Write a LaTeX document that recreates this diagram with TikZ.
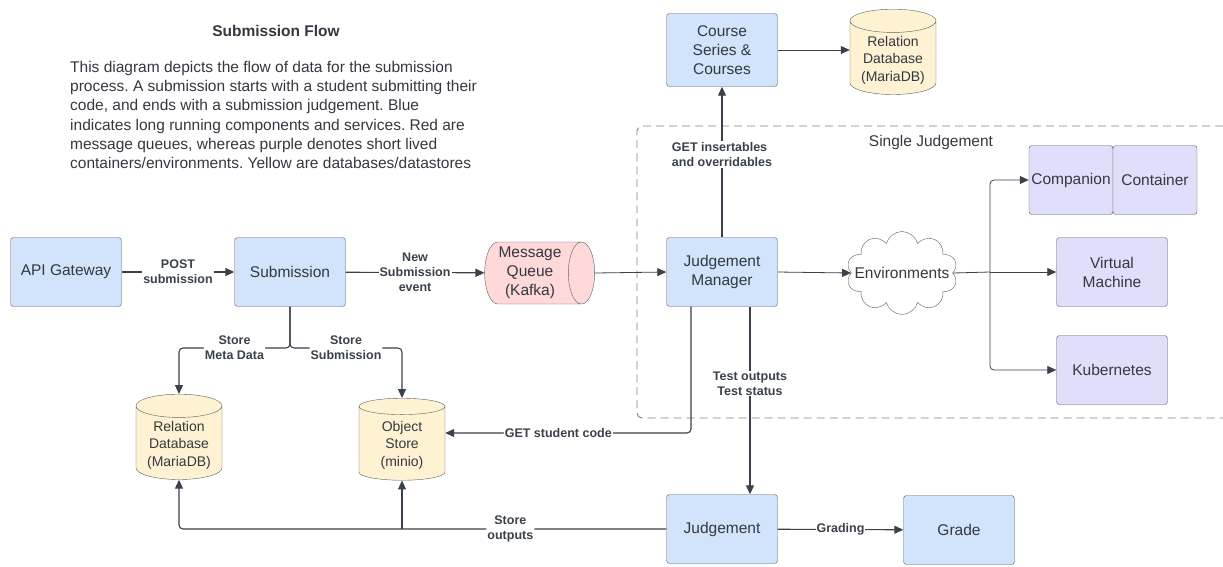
\documentclass[tikz,border=0pt]{standalone}
\usepackage{fontspec}
\setmainfont{Liberation Sans}
\usetikzlibrary{arrows.meta,shapes.geometric,shapes.symbols}
\frenchspacing

\definecolor{svcblue}{HTML}{D1E4FB}
\definecolor{queuered}{HTML}{FFD8D8}
\definecolor{dbyellow}{HTML}{FFF2D2}
\definecolor{envpurple}{HTML}{DFDFFC}
\definecolor{edgegray}{HTML}{5A5F66}
\definecolor{linegray}{HTML}{3A414A}
\definecolor{textgray}{HTML}{333840}

\begin{document}
\begin{tikzpicture}[x=1pt,y=-1pt,
    box/.style={draw=edgegray,fill=svcblue,rounded corners=3pt,minimum width=111pt,minimum height=69pt,
        align=center,text=textgray,font=\fontsize{15.5}{19}\selectfont},
    envbox/.style={box,fill=envpurple,inner sep=1pt},
    store/.style={cylinder,shape border rotate=90,draw=edgegray,fill=dbyellow,aspect=0.33,
        minimum width=86pt,minimum height=82pt,align=center,text=textgray,font=\fontsize{14}{17.5}\selectfont},
    lbl/.style={fill=white,inner sep=1pt,align=center,text=linegray,font=\fontsize{12.5}{15}\selectfont\bfseries},
    flow/.style={draw=linegray,line width=1.1pt,-{Triangle[length=9pt,width=8pt]}},
    thinflow/.style={flow,line width=0.8pt},
    elbow/.style={rounded corners=4pt}]
    \useasboundingbox (0,0) rectangle (1223,566);

    % Title and description
    \node[font=\fontsize{15.5}{19}\selectfont\bfseries,text=textgray] (title) at (276,31) {Submission Flow};
    \node[anchor=north west,align=left,inner sep=0pt,text=textgray,font=\fontsize{15.5}{19.2}\selectfont] (about) at (70,61)
        {This diagram depicts the flow of data for the submission\\
         process. A submission starts with a student submitting their\\
         code, and ends with a submission judgement. Blue\\
         indicates long running components and services. Red are\\
         message queues, whereas purple denotes short lived\\
         containers/environments. Yellow are databases/datastores};

    % Single judgement region
    \draw[gray,line width=0.9pt,dash pattern=on 8pt off 5pt,rounded corners=5pt]
        (1223,126) -- (637,126) -- (637,418) -- (1223,418);
    \node[text=textgray,font=\fontsize{15.5}{19}\selectfont] (single) at (931,142) {Single Judgement};

    % Services
    \node[box] (api) at (66,272) {API Gateway};
    \node[box] (sub) at (290,272) {Submission};
    \node[box] (jm) at (722,272) {Judgement\\Manager};
    \node[box,minimum height=73pt] (course) at (722,50) {Course\\Series \&\\Courses};
    \node[box] (judge) at (722,529) {Judgement};
    \node[box] (grade) at (959,530) {Grade};

    % Queue and stores
    \node[cylinder,draw=edgegray,fill=queuered,aspect=0.45,minimum height=110pt,minimum width=62pt,
        align=center,text=textgray,font=\fontsize{15.5}{19}\selectfont] (mq) at (530,273) {Message\\Queue\\(Kafka)};
    \node[store] (reltop) at (893,60) {Relation\\Database\\(MariaDB)};
    \node[store] (reldb) at (179,445) {Relation\\Database\\(MariaDB)};
    \node[store] (obj) at (402,445) {Object\\Store\\(minio)};

    % Environments
    \node[cloud,draw=edgegray,fill=white,cloud puffs=10,minimum width=111pt,minimum height=83pt,
        inner sep=0pt,text=textgray,font=\fontsize{15.5}{19}\selectfont] (env) at (902,273) {\makebox[0pt]{Environments}};
    \node[envbox,minimum width=84pt] (comp) at (1071,180) {Companion};
    \node[envbox,minimum width=84pt] (cont) at (1155,180) {Container};
    \node[envbox] (vm) at (1112,272) {Virtual\\Machine};
    \node[envbox] (kube) at (1112,370) {Kubernetes};

    % Submission path
    \draw[flow] (api) -- node[lbl] {POST\\submission} (sub);
    \draw[flow] (sub) -- node[lbl] {New\\Submission\\event} (mq);
    \draw[thinflow] (mq.east) -- (jm.west);
    \coordinate (split) at (290,348);
    \draw[flow,elbow] (sub.south) -- (split) -| node[lbl,pos=0.25] {Store\\Meta Data} (reldb.north);
    \draw[flow,elbow] (sub.south) -- (split) -| node[lbl,pos=0.25] {Store\\Submission} (obj.north);

    % Judgement manager
    \draw[flow] (jm.north) -- node[lbl,align=left,pos=0.55] {GET insertables\\and overridables} (course.south);
    \draw[thinflow] (course.east) -- (course.east -| reltop.west);
    \draw[flow,elbow] ([xshift=-31pt]jm.south) |- node[lbl,pos=0.77] {GET student code} ([yshift=12pt]obj.east);
    \draw[flow] ([xshift=28pt]jm.south) -- node[lbl,pos=0.41] {Test outputs\\Test status} ([xshift=28pt]judge.north);
    \draw[thinflow] (jm.east) -- (env.west);

    % Environments fan out
    \coordinate (fork) at (990,272);
    \draw[line width=0.8pt,draw=linegray] (env.east) -- (fork);
    \draw[thinflow,elbow] (fork) |- (comp.west);
    \draw[thinflow] (fork) -- (vm.west);
    \draw[thinflow,elbow] (fork) |- (kube.west);

    % Judgement results
    \draw[flow,elbow] (judge.west) -| node[lbl,pos=0.16] {Store\\outputs} (reldb.south);
    \coordinate (objfoot) at (obj.south |- judge.west);
    \draw[flow] (objfoot) -- (obj.south);
    \draw[flow] (judge) -- node[lbl] {Grading} (grade);
\end{tikzpicture}
\end{document}
